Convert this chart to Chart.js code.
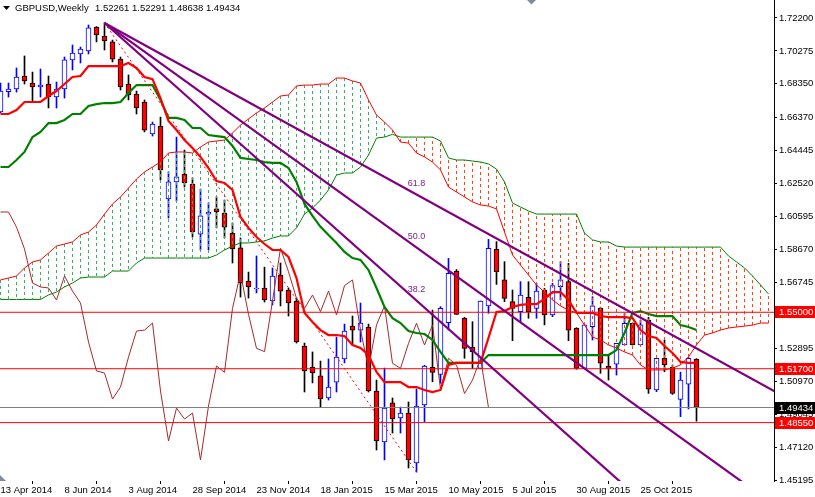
<!DOCTYPE html>
<html><head><meta charset="utf-8">
<script src="https://cdn.jsdelivr.net/npm/chart.js@4.4.1/dist/chart.umd.min.js"></script>
<style>html,body{margin:0;padding:0;background:#fff;overflow:hidden}canvas{display:block}</style>
</head><body>
<canvas id="c" width="815" height="497"></canvas>
<script>
// ---- data (weekly GBPUSD, bar index 0 = week of 13 Apr 2014) ----
const opens = [1.6671,1.6790,1.6805,1.6881,1.6840,1.6817,1.6834,1.6758,1.6805,1.6975,
 1.7010,1.7027,1.7167,1.7115,1.7080,1.6980,1.6834,1.6776,1.6729,1.6542,
 1.6589,1.6162,1.6262,1.6308,1.6250,1.5957,1.6074,1.6104,1.6080,1.5963,
 1.5876,1.5683,1.5636,1.5642,1.5566,1.5718,1.5630,1.5566,1.5303,1.5180,
 1.5128,1.4999,1.5092,1.5227,1.5420,1.5396,1.5414,1.5040,1.4742,1.4970,
 1.4882,1.4911,1.4619,1.4958,1.5178,1.5137,1.5439,1.5741,1.5465,1.5295,
 1.5172,1.5537,1.5868,1.5689,1.5562,1.5504,1.5587,1.5523,1.5630,1.5484,
 1.5650,1.5679,1.5406,1.5172,1.5416,1.5523,1.5186,1.5196,1.5309,1.5436,
 1.5309,1.5455,1.5046,1.5231,1.5178,1.4990,1.5080,1.52261];
const highs = [1.6840,1.6840,1.6928,1.6998,1.6904,1.6922,1.6881,1.6846,1.6992,1.7062,
 1.7050,1.7179,1.7170,1.7191,1.7091,1.6992,1.6887,1.6793,1.6741,1.6612,
 1.6641,1.6320,1.6524,1.6448,1.6285,1.6220,1.6139,1.6174,1.6156,1.6022,
 1.5934,1.5735,1.5829,1.5764,1.5759,1.5788,1.5642,1.5583,1.5320,1.5268,
 1.5215,1.5227,1.5355,1.5431,1.5478,1.5554,1.5431,1.5104,1.5174,1.4999,
 1.4946,1.4976,1.5052,1.5190,1.5513,1.5533,1.5815,1.5750,1.5470,1.5445,
 1.5566,1.5926,1.5913,1.5796,1.5630,1.5679,1.5679,1.5669,1.5640,1.5669,
 1.5796,1.5786,1.5410,1.5426,1.5591,1.5530,1.5250,1.5318,1.5494,1.5436,
 1.5455,1.5470,1.5231,1.5338,1.5192,1.5150,1.5235,1.52291];
const lows = [1.6665,1.6758,1.6787,1.6834,1.6735,1.6758,1.6694,1.6694,1.6752,1.6916,
 1.6957,1.7010,1.7080,1.7033,1.6963,1.6799,1.6741,1.6659,1.6554,1.6530,
 1.6273,1.6051,1.6150,1.6232,1.5940,1.5864,1.5864,1.5993,1.5934,1.5788,
 1.5589,1.5583,1.5613,1.5560,1.5543,1.5537,1.5478,1.5320,1.5034,1.5087,
 1.4946,1.4987,1.5034,1.5204,1.5308,1.5326,1.5034,1.4695,1.4637,1.4794,
 1.4794,1.4590,1.4566,1.4861,1.5094,1.5085,1.5396,1.5488,1.5231,1.5172,
 1.5170,1.5494,1.5663,1.5562,1.5334,1.5445,1.5465,1.5465,1.5426,1.5474,
 1.5572,1.5334,1.5167,1.5170,1.5338,1.5143,1.5104,1.5133,1.5309,1.5309,
 1.5309,1.5026,1.5036,1.5153,1.5020,1.4890,1.4935,1.48638];
const closes = [1.6793,1.6805,1.6875,1.6852,1.6817,1.6828,1.6758,1.6805,1.6975,1.7015,
 1.7039,1.7162,1.7121,1.7086,1.6980,1.6817,1.6770,1.6694,1.6565,1.6600,
 1.6332,1.6262,1.6291,1.6256,1.5969,1.6063,1.6086,1.6086,1.5998,1.5870,
 1.5671,1.5648,1.5642,1.5572,1.5712,1.5624,1.5554,1.5326,1.5157,1.5145,
 1.4993,1.5063,1.5238,1.5390,1.5396,1.5437,1.5040,1.4748,1.4940,1.4876,
 1.4911,1.4637,1.4952,1.5186,1.5149,1.5523,1.5728,1.5488,1.5289,1.5270,
 1.5566,1.5874,1.5737,1.5581,1.5523,1.5601,1.5504,1.5624,1.5484,1.5656,
 1.5689,1.5396,1.5172,1.5426,1.5537,1.5202,1.5172,1.5318,1.5436,1.5309,
 1.5426,1.5050,1.5231,1.5192,1.5025,1.5104,1.5231,1.49434];
const tenkan = [1.6659,1.6659,1.6682,1.6729,1.6729,1.6729,1.6764,1.6793,1.6834,1.6875,
 1.6881,1.6939,1.6939,1.6939,1.6939,1.6939,1.6957,1.6928,1.6875,1.6863,
 1.6752,1.6618,1.6565,1.6507,1.6460,1.6408,1.6343,1.6267,1.6256,1.6215,
 1.6057,1.5993,1.5940,1.5899,1.5864,1.5864,1.5823,1.5700,1.5496,1.5443,
 1.5396,1.5367,1.5367,1.5361,1.5309,1.5291,1.5250,1.5151,1.5092,1.5092,
 1.5092,1.5063,1.5063,1.5046,1.5034,1.5046,1.5192,1.5204,1.5204,1.5204,
 1.5204,1.5350,1.5502,1.5507,1.5531,1.5543,1.5548,1.5548,1.5578,1.5618,
 1.5618,1.5572,1.5496,1.5496,1.5496,1.5478,1.5472,1.5472,1.5472,1.5466,
 1.5396,1.5361,1.5350,1.5303,1.5262,1.5210,1.5204,1.5204];
const kijun = [1.6349,1.6349,1.6390,1.6437,1.6524,1.6554,1.6606,1.6606,1.6624,1.6659,
 1.6659,1.6706,1.6717,1.6723,1.6723,1.6729,1.6782,1.6828,1.6828,1.6828,
 1.6741,1.6636,1.6636,1.6624,1.6577,1.6577,1.6536,1.6530,1.6524,1.6472,
 1.6402,1.6396,1.6390,1.6378,1.6373,1.6373,1.6343,1.6262,1.6133,1.6063,
 1.5999,1.5952,1.5905,1.5853,1.5817,1.5806,1.5747,1.5642,1.5531,1.5466,
 1.5437,1.5390,1.5379,1.5373,1.5338,1.5268,1.5204,1.5204,1.5204,1.5204,
 1.5204,1.5250,1.5250,1.5250,1.5250,1.5250,1.5250,1.5250,1.5250,1.5250,
 1.5250,1.5250,1.5250,1.5250,1.5250,1.5250,1.5250,1.5279,1.5379,1.5496,
 1.5507,1.5490,1.5478,1.5478,1.5478,1.5425,1.5414,1.5396];
// lagging span, drawn from bar 0 onwards
const chikou = [1.6086,1.6086,1.5998,1.5870,1.5671,1.5648,1.5642,1.5572,1.5712,1.5624,
 1.5554,1.5326,1.5157,1.5145,1.4993,1.5063,1.5238,1.5390,1.5396,1.5437,
 1.5040,1.4748,1.4940,1.4876,1.4911,1.4637,1.4952,1.5186,1.5149,1.5523,
 1.5728,1.5488,1.5289,1.5270,1.5566,1.5874,1.5737,1.5581,1.5523,1.5601,
 1.5504,1.5624,1.5484,1.5656,1.5689,1.5396,1.5172,1.5426,1.5537,1.5202,
 1.5172,1.5318,1.5436,1.5309,1.5426,1.5050,1.5231,1.5192,1.5025,1.5104,
 1.5231,1.49434];
// leading spans (already shifted), bar 0 .. 96
const spanA = [1.5689,1.5700,1.5712,1.5759,1.5794,1.5806,1.5846,1.5887,1.5899,1.5911,
 1.5952,1.5969,1.6010,1.6074,1.6133,1.6174,1.6226,1.6279,1.6320,1.6349,
 1.6378,1.6431,1.6437,1.6437,1.6431,1.6466,1.6495,1.6501,1.6507,1.6548,
 1.6594,1.6630,1.6665,1.6694,1.6729,1.6764,1.6770,1.6823,1.6828,1.6828,
 1.6834,1.6834,1.6869,1.6869,1.6852,1.6840,1.6741,1.6653,1.6612,1.6565,
 1.6495,1.6489,1.6431,1.6408,1.6378,1.6332,1.6232,1.6203,1.6174,1.6145,
 1.6127,1.6121,1.6104,1.5969,1.5835,1.5776,1.5718,1.5659,1.5618,1.5572,
 1.5537,1.5513,1.5496,1.5425,1.5355,1.5338,1.5309,1.5291,1.5268,1.5250,
 1.5192,1.5163,1.5163,1.5163,1.5174,1.5192,1.5239,1.5309,1.5367,1.5379,
 1.5396,1.5408,1.5414,1.5419,1.5425,1.5437,1.5437];
const spanB = [1.5575,1.5575,1.5575,1.5575,1.5575,1.5575,1.5601,1.5618,1.5648,1.5671,
 1.5700,1.5706,1.5706,1.5706,1.5741,1.5741,1.5741,1.5788,1.5817,1.5817,
 1.5817,1.5817,1.5817,1.5817,1.5817,1.5817,1.5817,1.5835,1.5864,1.5887,
 1.5905,1.5905,1.5911,1.5917,1.5934,1.5946,1.5946,1.5993,1.6074,1.6109,
 1.6156,1.6215,1.6302,1.6314,1.6314,1.6349,1.6419,1.6518,1.6524,1.6540,
 1.6524,1.6524,1.6524,1.6524,1.6524,1.6501,1.6402,1.6390,1.6390,1.6384,
 1.6378,1.6367,1.6337,1.6262,1.6139,1.6115,1.6092,1.6074,1.6074,1.6074,
 1.6074,1.6074,1.6074,1.5963,1.5923,1.5911,1.5911,1.5887,1.5881,1.5881,
 1.5881,1.5881,1.5881,1.5881,1.5881,1.5881,1.5881,1.5881,1.5881,1.5881,
 1.5881,1.5829,1.5794,1.5759,1.5712,1.5660,1.5607];
const xTickIndex = [0,8,16,24,32,40,48,56,64,72,80];
const xTickLabels = ['13 Apr 2014','8 Jun 2014','3 Aug 2014','28 Sep 2014','23 Nov 2014','18 Jan 2015','15 Mar 2015','10 May 2015','5 Jul 2015','30 Aug 2015','25 Oct 2015'];
const yTickLabels = ['1.72200','1.70275','1.68350','1.66370','1.64445','1.62520','1.60595','1.58670','1.56745','1.54820','1.52895','1.50970','1.49045','1.47120','1.45195'];
const levelLines = [1.5500, 1.5170, 1.4855];
const bidPrice = 1.49434;
const fanStart = {i: 13, p: 1.7191};
const fanEnd = {i: 52, p: 1.4566};
const fanLevels = [38.2, 50.0, 61.8];
const titleSymbol = 'GBPUSD,Weekly';
const titleOHLC = ['1.52261','1.52291','1.48638','1.49434'];

// ---- view ----
const X_MIN = -0.0625, X_MAX = 96.6875;
const Y_MAX = 1.73252, Y_MIN = 1.45138;
const FONT = '"Liberation Sans", Arial, sans-serif';
Chart.defaults.font.family = FONT;

const idx = closes.map((_, i) => i);
const isBull = idx.map(i => closes[i] >= opens[i]);
const wickData = idx.map(i => ({x: i, y: [lows[i], highs[i]]}));
const bodyData = idx.map(i => ({x: i, y: [opens[i], closes[i]]}));

const hatchUp = [], hatchDn = [];
spanA.forEach((a, i) => {
  const b = spanB[i];
  const t = a >= b ? hatchUp : hatchDn;
  t.push({x: i, y: a}, {x: i, y: b}, {x: i, y: null});
});

const pts = arr => arr.map((v, i) => ({x: i, y: v}));
const line = (data, color, width, order, extra) => Object.assign({
  type: 'line', data, borderColor: color, borderWidth: width, pointRadius: 0,
  pointHoverRadius: 0, fill: false, tension: 0, order, spanGaps: false
}, extra || {});

const fanData = fanLevels.map(lv => {
  const pLv = fanEnd.p + lv / 100 * (fanStart.p - fanEnd.p);
  const slope = (pLv - fanStart.p) / (fanEnd.i - fanStart.i);
  const xe = X_MAX + 2;
  return [{x: fanStart.i, y: fanStart.p}, {x: xe, y: fanStart.p + slope * (xe - fanStart.i)}];
});

const datasets = [
  {type: 'bar', data: wickData, backgroundColor: idx.map(i => isBull[i] ? '#0000ff' : '#000000'),
   borderWidth: 0, barThickness: 1, grouped: false, order: 30},
  {type: 'bar', data: bodyData, backgroundColor: idx.map(i => isBull[i] ? '#ffffff' : '#ff0000'),
   borderColor: idx.map(i => isBull[i] ? '#0000ff' : '#000000'), borderWidth: 1, borderSkipped: false,
   barThickness: 5, grouped: false, order: 29},
  line(hatchUp, '#33b061', 1, 20, {borderDash: [3, 3]}),
  line(hatchDn, '#ff4500', 1, 20, {borderDash: [3, 3]}),
  line(pts(spanA), '#ff0000', 1, 19),
  line(pts(spanB), '#008000', 1, 19),
  line(pts(chikou), '#a52a2a', 1, 18),
  line(pts(kijun), '#008000', 2.2, 17),
  line(pts(tenkan), '#ff0000', 2.2, 16),
  ...levelLines.map(lv => line([{x: X_MIN, y: lv}, {x: X_MAX, y: lv}], '#ff0000', 1, 10)),
  line([{x: X_MIN, y: bidPrice}, {x: X_MAX, y: bidPrice}], '#808080', 1, 11),
  line([{x: fanStart.i, y: fanStart.p}, {x: fanEnd.i, y: fanEnd.p}], '#ff0000', 1, 9, {borderDash: [2, 3]}),
  ...fanData.map(d => line(d, '#800080', 2.2, 8))
];

const overlay = {
  id: 'overlay',
  afterDraw(chart) {
    const {ctx, scales: {x, y}} = chart;
    ctx.save();
    // fan level labels
    ctx.font = '9px ' + FONT;
    ctx.fillStyle = '#7a1f8a';
    ctx.textAlign = 'center';
    ctx.textBaseline = 'middle';
    fanLevels.forEach(lv => {
      const p = fanEnd.p + lv / 100 * (fanStart.p - fanEnd.p);
      ctx.fillText(lv.toFixed(1), x.getPixelForValue(fanEnd.i), y.getPixelForValue(p) - 11);
    });
    // price boxes on the right axis
    const boxes = levelLines.map(v => ({v, c: '#ff0000'})).concat([{v: bidPrice, c: '#000000'}]);
    ctx.font = '9.5px ' + FONT;
    ctx.textAlign = 'left';
    boxes.forEach(b => {
      const py = Math.round(y.getPixelForValue(b.v));
      ctx.fillStyle = b.c;
      ctx.fillRect(x.right + 1, py - 6, 40, 12);
      ctx.fillStyle = '#ffffff';
      ctx.fillText(b.v.toFixed(5), x.right + 5, py + 0.5);
    });
    // title
    ctx.fillStyle = '#000000';
    ctx.beginPath(); ctx.moveTo(3, 6); ctx.lineTo(10, 6); ctx.lineTo(6.5, 10); ctx.closePath(); ctx.fill();
    ctx.font = '9.5px ' + FONT;
    ctx.textBaseline = 'alphabetic';
    ctx.fillText(titleSymbol, 15, 11);
    ctx.fillText(titleOHLC.join(' '), 95, 11);
    // shift markers
    ctx.fillStyle = '#7f8ca0';
    ctx.beginPath(); ctx.moveTo(527, 0); ctx.lineTo(536, 0); ctx.lineTo(531.5, 4.5); ctx.closePath(); ctx.fill();
    ctx.beginPath(); ctx.moveTo(0, 475); ctx.lineTo(6, 481); ctx.lineTo(0, 481); ctx.closePath(); ctx.fill();
    ctx.restore();
  }
};

new Chart(document.getElementById('c'), {
  type: 'line',
  data: {datasets},
  plugins: [overlay],
  options: {
    responsive: false, animation: false, devicePixelRatio: 1, events: [],
    layout: {padding: 0},
    plugins: {legend: {display: false}, tooltip: {enabled: false}, title: {display: false}},
    scales: {
      x: {
        type: 'linear', min: X_MIN, max: X_MAX, offset: false, position: 'bottom',
        grid: {display: true, drawOnChartArea: false, drawTicks: true, tickLength: 3, color: '#000', tickColor: '#000'},
        border: {display: false},
        ticks: {autoSkip: false, maxRotation: 0, minRotation: 0, align: 'start', padding: 1, color: '#000',
          font: {size: 9.5},
          callback: v => { const k = xTickIndex.indexOf(v); return k >= 0 ? xTickLabels[k] : ''; }},
        afterBuildTicks: s => { s.ticks = xTickIndex.map(v => ({value: v})); },
        afterFit: s => { s.height = 16; s.paddingLeft = 0; s.paddingRight = 0; }
      },
      y: {
        type: 'linear', min: Y_MIN, max: Y_MAX, position: 'right',
        grid: {display: true, drawOnChartArea: false, drawTicks: true, tickLength: 3, color: '#000', tickColor: '#000'},
        border: {display: true, color: '#000', width: 1},
        ticks: {padding: 2, color: '#000', font: {size: 9.5}, autoSkip: false,
          callback: v => v.toFixed(5)},
        afterBuildTicks: s => { s.ticks = yTickLabels.map(t => ({value: parseFloat(t)})); },
        afterFit: s => { s.width = 41; s.paddingTop = 0; s.paddingBottom = 0; }
      }
    }
  }
});
</script>
</body></html>
